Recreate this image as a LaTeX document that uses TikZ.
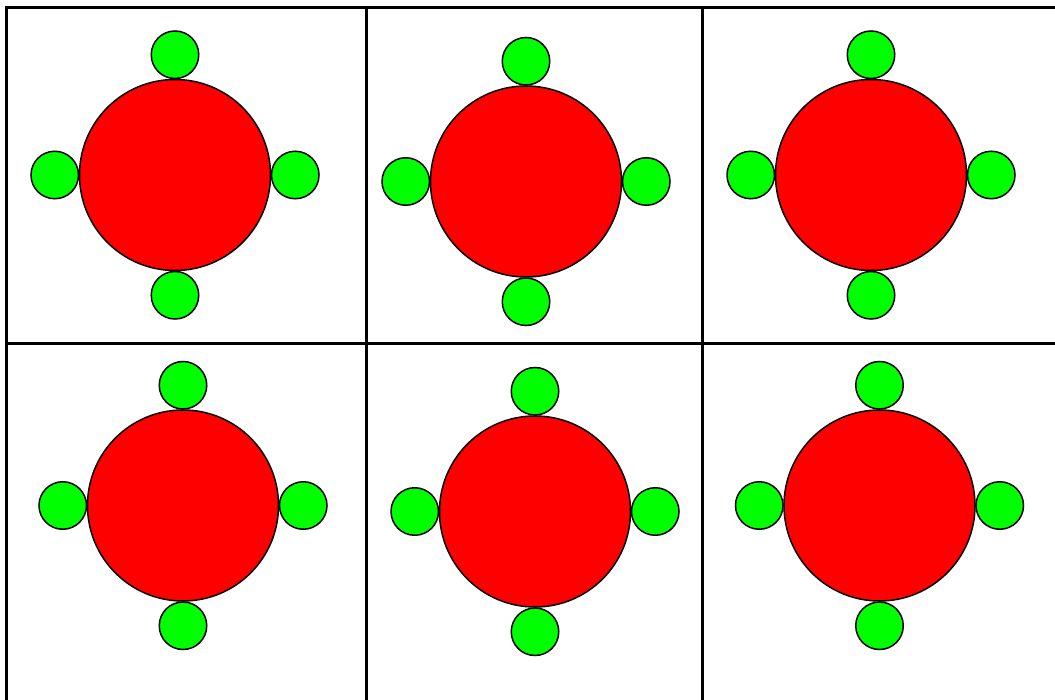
\documentclass[tikz,border=0pt]{standalone}
\usepackage{tikz}
\usetikzlibrary{positioning}

\tikzset{
    table/.style={circle, draw=black, fill=red, line width=1.5pt, minimum size=191pt, inner sep=0pt, outer sep=0pt},
    seat/.style={circle, draw=black, fill=green, line width=1.5pt, minimum size=47.5pt, inner sep=0pt, outer sep=0pt},
    grid line/.style={line width=3pt, black}
}

\begin{document}
\begin{tikzpicture}[x=1pt, y=-1pt, node distance=1pt]
    \useasboundingbox (0,0) rectangle (1055,700);
    % cell borders
    \draw[grid line] (6,720) -- (6,7.5) -- (1070,7.5);
    \draw[grid line] (6,343.5) -- (1070,343.5);
    \draw[grid line] (366.5,7.5) -- (366.5,720);
    \draw[grid line] (702.5,7.5) -- (702.5,720);
    % tables with four seats
    \foreach \i/\x/\y in {1/175/175, 2/526/181.5, 3/871/175, 4/183/505.5, 5/535/511.5, 6/879.5/505.5} {
        \node[table] (t\i) at (\x,\y) {};
        \node[seat, above=of t\i] (t\i n) {};
        \node[seat, below=of t\i] (t\i s) {};
        \node[seat, left=of t\i] (t\i w) {};
        \node[seat, right=of t\i] (t\i e) {};
    }
\end{tikzpicture}
\end{document}
